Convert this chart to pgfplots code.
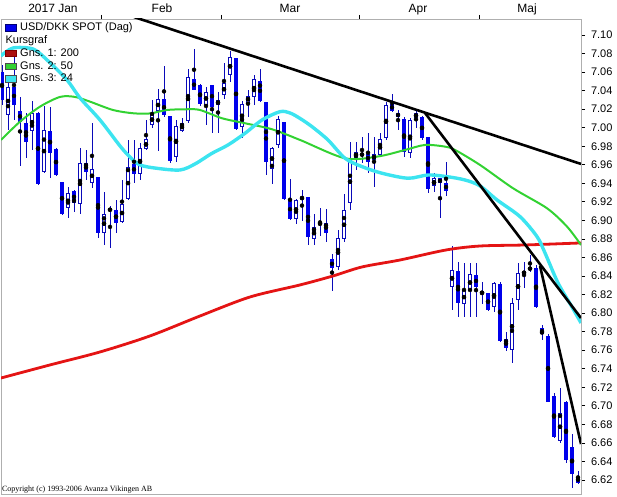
\documentclass[border=0pt]{standalone}
\usepackage{fontspec}
\setmainfont{Liberation Sans}
\newfontfamily\copyfont{Liberation Serif}
\usepackage{pgfplots}
\usepackage{pgfplotstable}
\pgfplotsset{compat=1.18}

\definecolor{wickblue}{RGB}{10,10,185}
\definecolor{bodyblue}{RGB}{0,0,235}
\definecolor{macyan}{RGB}{60,228,240}
\definecolor{magreen}{RGB}{50,210,50}
\definecolor{mared}{RGB}{228,20,20}
\definecolor{framegray}{RGB}{175,175,175}

% falling days (filled bodies): k open high low close
\pgfplotstableread{
k O H L C
0 7.0604 7.0676 7.0245 7.0299
2 7.0442 7.0838 7.0083 7.0245
3 7.0184 7.0335 6.9587 7.0065
4 7.0054 7.0162 6.9670 6.9849
6 7.0162 7.0170 6.9382 6.9393
8 6.9965 7.0227 6.9458 6.9731
9 6.9769 6.9782 6.9479 6.9490
10 6.9412 6.9420 6.9059 6.9070
12 6.9318 6.9328 6.9094 6.9191
14 6.9616 6.9760 6.9436 6.9526
16 6.9465 6.9469 6.8807 6.8868
19 6.9113 6.9221 6.8861 6.8969
22 6.9606 6.9868 6.9401 6.9498
27 7.0307 7.0666 7.0119 7.0137
28 7.0127 7.0127 6.9623 6.9645
32 7.0523 7.0846 7.0407 7.0407
33 7.0461 7.0472 7.0235 7.0256
35 7.0461 7.0461 6.9940 7.0221
39 7.0749 7.0752 6.9975 6.9983
43 7.0504 7.0630 7.0281 7.0292
44 7.0274 7.0278 6.9490 6.9634
47 7.0065 7.0067 6.9221 6.9231
48 6.9228 6.9444 6.9005 6.9016
51 6.9256 6.9258 6.8735 6.8821
54 6.8978 6.9126 6.8768 6.8868
55 6.8581 6.8638 6.8239 6.8484
61 6.9714 6.9947 6.9515 6.9634
65 7.0256 7.0364 7.0173 7.0184
66 7.0156 7.0191 6.9975 7.0119
67 7.0091 7.0119 6.9688 6.9742
70 7.0113 7.0127 6.9868 6.9886
71 6.9897 6.9903 6.9299 6.9336
73 6.9455 6.9458 6.9023 6.9401
74 6.9401 6.9634 6.9264 6.9321
76 6.8455 6.8555 6.7962 6.8113
79 6.8412 6.8538 6.7959 6.8285
81 6.8214 6.8221 6.8026 6.8034
83 6.8314 6.8339 6.7692 6.7703
84 6.7721 6.7800 6.7595 6.7621
89 6.8484 6.8519 6.8052 6.8063
90 6.7836 6.7872 6.7710 6.7775
91 6.7756 6.7772 6.7045 6.7045
92 6.7109 6.7142 6.6650 6.6660
94 6.7045 6.7055 6.6386 6.6416
95 6.6553 6.6696 6.6110 6.6265
96 6.6236 6.6300 6.6157 6.6171
}\down

% rising days (hollow bodies): k open high low close
\pgfplotstableread{
k O H L C
1 7.0137 7.0493 6.9975 7.0442
5 6.9968 7.0288 6.9760 7.0156
7 6.9526 7.0235 6.9509 6.9970
11 6.9131 6.9364 6.9023 6.9293
13 6.9174 6.9782 6.9070 6.9616
15 6.9409 7.0048 6.9347 6.9555
17 6.8861 6.9310 6.8735 6.9070
18 6.9099 6.9161 6.8700 6.9131
20 6.8987 6.9436 6.8969 6.9174
21 6.9228 6.9868 6.9221 6.9580
23 6.9504 6.9832 6.9436 6.9778
24 6.9765 7.0083 6.9760 6.9875
25 7.0030 7.0299 6.9997 7.0148
26 7.0184 7.0415 6.9749 7.0307
29 6.9681 7.0083 6.9634 7.0019
30 6.9968 7.0102 6.9957 7.0048
31 7.0076 7.0630 7.0054 7.0544
34 7.0245 7.0442 7.0030 7.0389
36 7.0245 7.0389 6.9940 7.0299
37 7.0353 7.0702 7.0307 7.0479
38 7.0569 7.0831 7.0497 7.0760
40 7.0005 7.0288 6.9886 7.0253
41 7.0270 7.0407 7.0113 7.0346
42 7.0335 7.0569 7.0245 7.0523
45 6.9552 6.9787 6.9390 6.9784
46 6.9814 7.0127 6.9778 7.0091
49 6.9016 6.9231 6.8958 6.9221
50 6.9228 6.9328 6.8994 6.9256
52 6.8797 6.9070 6.8735 6.8929
53 6.8951 6.9131 6.8827 6.8978
56 6.8501 6.8897 6.8466 6.8807
57 6.8797 6.9285 6.8768 6.9110
58 6.9185 6.9849 6.9113 6.9652
59 6.9674 6.9849 6.9544 6.9742
60 6.9698 6.9903 6.9616 6.9724
62 6.9652 6.9903 6.9364 6.9714
63 6.9706 6.9940 6.9688 6.9875
64 6.9886 7.0281 6.9868 7.0245
68 6.9724 7.0102 6.9670 7.0083
69 7.0102 7.0191 6.9994 7.0162
72 6.9368 6.9509 6.9310 6.9455
75 6.8285 6.8724 6.8034 6.8466
77 6.8098 6.8541 6.7959 6.8250
78 6.8242 6.8541 6.7959 6.8419
80 6.8203 6.8339 6.8098 6.8239
82 6.8063 6.8339 6.8016 6.8322
85 6.7602 6.8160 6.7459 6.8113
86 6.8142 6.8538 6.8034 6.8436
87 6.8419 6.8555 6.8268 6.8455
88 6.8466 6.8627 6.8447 6.8495
93 6.6624 6.7189 6.6596 6.6926
}\up

\begin{document}
\begin{tikzpicture}
\useasboundingbox (-1pt,-2pt) rectangle (616pt,494pt);
\begin{axis}[
  scale only axis, width=580pt, height=475pt,
  xmin=-0.1667, xmax=96.5, ymin=6.60488, ymax=7.11726,
  axis line style={draw=framegray, line width=0.8pt},
  xtick pos=upper, xticklabel pos=upper,
  ytick pos=upper, yticklabel pos=upper,
  tick align=outside,
  major tick length=4pt, minor tick length=4pt,
  xtick={8.5,26.67,48,69.33,87.5},
  xticklabels={2017 Jan,Feb,Mar,Apr,Maj},
  minor xtick={16.5,36.5,59.5,79.5},
  major x tick style={draw=none},
  minor x tick style={draw=black, line width=0.8pt},
  major y tick style={draw=black, line width=0.8pt},
  ytick={6.62,6.64,6.66,6.68,6.70,6.72,6.74,6.76,6.78,6.80,6.82,6.84,6.86,6.88,6.90,6.92,6.94,6.96,6.98,7.00,7.02,7.04,7.06,7.08,7.10},
  yticklabels={6.62,6.64,6.66,6.68,6.70,6.72,6.74,6.76,6.78,6.80,6.82,6.84,6.86,6.88,6.90,6.92,6.94,6.96,6.98,7.00,7.02,7.04,7.06,7.08,7.10},
  yticklabel style={font=\fontsize{11}{13}\selectfont, anchor=west, xshift=2.5pt},
  xticklabel style={font=\fontsize{12}{14}\selectfont, anchor=base, inner sep=0pt, yshift=2pt},
  legend cell align=left,
  legend style={at={(rel axis cs:0,1)}, anchor=north west, xshift=4pt, yshift=-2.5pt,
    draw=none, fill=none, inner sep=0pt, outer sep=0pt,
    font=\fontsize{11}{13}\selectfont, row sep=0pt,
    nodes={inner sep=0pt, text height=9.3pt, text depth=3.5pt},
    /tikz/every odd column/.append style={column sep=3.6pt}},
]
\addlegendimage{legend image code/.code={\draw[draw=black!55!blue, fill=bodyblue, line width=0.6pt] (0pt,-3.3pt) rectangle (11pt,3.3pt);}}
\addlegendentry{USD/DKK SPOT (Dag)}
\addlegendimage{empty legend}
\addlegendentry{\hspace*{-14.6pt}Kursgraf}
\addlegendimage{legend image code/.code={\draw[draw=black!50!red, fill=mared!75!black, line width=0.6pt] (0pt,-3.3pt) rectangle (11pt,3.3pt);}}
\addlegendentry{Gns. 1: 200}
\addlegendimage{legend image code/.code={\draw[draw=black!70, fill=magreen, line width=0.6pt] (0pt,-3.3pt) rectangle (11pt,3.3pt);}}
\addlegendentry{Gns. 2: 50}
\addlegendimage{legend image code/.code={\draw[draw=black!70, fill=macyan, line width=0.6pt] (0pt,-3.3pt) rectangle (11pt,3.3pt);}}
\addlegendentry{Gns. 3: 24}

% wicks
\addplot[forget plot, only marks, mark=none, error bars/.cd, y dir=both, y explicit, error mark=none,
  error bar style={draw=wickblue, line width=1pt}]
  table[x=k, y expr={(\thisrow{H}+\thisrow{L})/2}, y error expr={(\thisrow{H}-\thisrow{L})/2}] {\down};
\addplot[forget plot, only marks, mark=none, error bars/.cd, y dir=both, y explicit, error mark=none,
  error bar style={draw=wickblue, line width=1pt}]
  table[x=k, y expr={(\thisrow{H}+\thisrow{L})/2}, y error expr={(\thisrow{H}-\thisrow{L})/2}] {\up};
% filled bodies
\addplot[forget plot, only marks, mark=none, error bars/.cd, y dir=both, y explicit, error mark=none,
  error bar style={draw=bodyblue, line width=4.8pt}]
  table[x=k, y expr={(\thisrow{O}+\thisrow{C})/2}, y error expr={(\thisrow{O}-\thisrow{C})/2}] {\down};
% hollow bodies
\addplot[forget plot, only marks, mark=none, error bars/.cd, y dir=both, y explicit, error mark=none,
  error bar style={draw=wickblue, line width=4.8pt}]
  table[x=k, y expr={(\thisrow{O}+\thisrow{C})/2}, y error expr={(\thisrow{C}-\thisrow{O})/2}] {\up};
\addplot[forget plot, only marks, mark=none, error bars/.cd, y dir=both, y explicit, error mark=none,
  error bar style={draw=white, line width=2.8pt}]
  table[x=k, y expr={(\thisrow{O}+\thisrow{C})/2}, y error expr={max((\thisrow{C}-\thisrow{O})/2-0.00108,0)}] {\up};

% moving averages
\addplot[forget plot, mared, line width=2.8pt, smooth, line join=round] coordinates {
(-0.17,6.7300) (8,6.7441) (16.33,6.7581) (24.67,6.7754) (33,6.7969) (41.33,6.8174)
(49.67,6.8304) (55.17,6.8401) (60,6.8498) (66.33,6.8573) (74,6.8681) (79.67,6.8724)
(87.17,6.8735) (96.5,6.8757)};
\addplot[forget plot, magreen, line width=2pt, smooth, line join=round] coordinates {
(-0.17,6.9868) (3,7.0065) (6.33,7.0227) (9.67,7.0332) (12.17,7.0332) (14.67,7.0281)
(18.5,7.0191) (21.83,7.0156) (24.67,7.0154) (27.5,7.0191) (30.83,7.0199) (33,7.0191)
(36.67,7.0102) (40.5,7.0048) (45,6.9983) (49.67,6.9868) (57.17,6.9670) (62.67,6.9690)
(67.17,6.9760) (70.5,6.9814) (73.83,6.9796) (75.5,6.9760) (79.67,6.9598) (85.17,6.9347)
(90.83,6.9131) (94.17,6.8933) (96.5,6.8735)};
\addplot[forget plot, macyan, line width=3.4pt, smooth, line join=round] coordinates {
(-0.17,7.0774) (1.83,7.0860) (5.17,7.0849) (7.5,7.0731) (10.83,7.0515) (13,7.0321)
(16.33,7.0084) (19.67,6.9803) (21.33,6.9684) (23,6.9598) (25.83,6.9562) (29.67,6.9544)
(32.17,6.9609) (35,6.9724) (37.67,6.9814) (40.5,6.9940) (43.33,7.0083) (46.33,7.0173)
(48,7.0159) (49.67,7.0100) (51.67,7.0011) (54.33,6.9868) (57.17,6.9670) (60,6.9580)
(63.33,6.9509) (67.67,6.9455) (71,6.9490) (74.17,6.9472) (77.17,6.9436) (79.67,6.9372)
(82.5,6.9221) (86.33,6.9041) (89.17,6.8825) (90.5,6.8649) (92.67,6.8325) (95,6.8066)
(96.5,6.7894)};

% trend lines
\addplot[forget plot, black, line width=2.6pt] coordinates {(22,7.1194) (96.5,6.9609)};
\addplot[forget plot, black, line width=2.6pt] coordinates {(70.5,7.0159) (96.5,6.7947)};
\addplot[forget plot, black, line width=2.6pt] coordinates {(89.67,6.8508) (96.5,6.6588)};

\node[anchor=base west, inner sep=0pt, font=\copyfont\fontsize{8}{9}\selectfont]
  at (rel axis cs:0,0) [xshift=0.8pt, yshift=3pt] {Copyright (c) 1993-2006 Avanza Vikingen AB};
\end{axis}
\end{tikzpicture}
\end{document}
